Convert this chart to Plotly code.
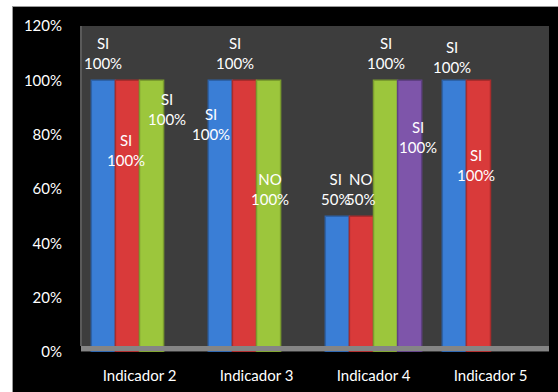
import plotly.graph_objects as go

categories = ["Indicador 2", "Indicador 3", "Indicador 4", "Indicador 5"]
series_names = ["Serie 1", "Serie 2", "Serie 3", "Serie 4"]
blue_vals = [1.0, 1.0, 0.5, 1.0]
red_vals = [1.0, 1.0, 0.5, 1.0]
green_vals = [1.0, 1.0, 1.0, None]
purple_vals = [None, None, 1.0, None]
blue_words = ["SI", "SI", "SI", "SI"]
red_words = ["SI", "SI", "NO", "SI"]
green_words = ["SI", "NO", "SI", None]
purple_words = [None, None, "SI", None]
y_ticks = [0, 0.2, 0.4, 0.6, 0.8, 1.0, 1.2]

values = [blue_vals, red_vals, green_vals, purple_vals]
words = [blue_words, red_words, green_words, purple_words]
colors = ["#3a7ed6", "#d93a3a", "#9cc63c", "#7e55aa"]
edge_colors = ["#2d62a8", "#a82c2c", "#7a9c2e", "#5f4083"]

# label placement (style): (label centre height in axis units, extra x shift in px)
label_place = [
    [(1.10, 2), (0.84, -7), (0.60, 0), (1.085, 0)],
    [(0.745, 1), (1.10, -7), (0.60, 1), (0.69, 0)],
    [(0.895, 17), (0.60, 3), (1.10, 2), None],
    [None, None, (0.79, 10), None],
]

BARGAP = 0.176
PLOT_L, PLOT_R, PLOT_T, PLOT_B = 81, 549, 26, 352
W, H = 558, 392

fig = go.Figure()
for name, vals, col, ec in zip(series_names, values, colors, edge_colors):
    fig.add_trace(go.Bar(
        x=categories, y=vals, name=name,
        marker=dict(color=col, line=dict(width=1.5, color=ec)),
        hoverinfo="skip",
    ))

bw = (1 - BARGAP) / 4
anns = []
for k in range(4):
    for i, cat in enumerate(categories):
        v = values[k][i]
        wd = words[k][i]
        pl = label_place[k][i]
        if v is None or wd is None or pl is None:
            continue
        anns.append(dict(
            x=i + (k - 1.5) * bw, y=pl[0], xref="x", yref="y",
            text=f"{wd}<br>{int(round(v * 100))}%",
            showarrow=False, xshift=pl[1] - 2,
            font=dict(color="white", size=15, family="Lato"),
            align="center",
        ))

pw = PLOT_R - PLOT_L
ph = PLOT_B - PLOT_T


def px2x(p):
    return (p - PLOT_L) / pw


def px2y(p):
    return (PLOT_B - p) / ph


shapes = [
    # white page outside the black chart area
    dict(type="rect", xref="paper", yref="paper", layer="above",
         x0=px2x(0), x1=px2x(W), y0=px2y(6), y1=px2y(0),
         fillcolor="#ffffff", line=dict(width=0)),
    dict(type="rect", xref="paper", yref="paper", layer="above",
         x0=px2x(0), x1=px2x(12), y0=px2y(H), y1=px2y(0),
         fillcolor="#ffffff", line=dict(width=0)),
    dict(type="line", xref="paper", yref="paper", layer="above",
         x0=px2x(12), x1=px2x(W), y0=px2y(6.5), y1=px2y(6.5),
         line=dict(color="#9a9a9a", width=1)),
    dict(type="line", xref="paper", yref="paper", layer="above",
         x0=px2x(12.5), x1=px2x(12.5), y0=px2y(6.5), y1=px2y(H),
         line=dict(color="#9a9a9a", width=1)),
    # floor
    dict(type="rect", xref="paper", yref="paper", layer="above",
         x0=0, x1=1, y0=px2y(351), y1=px2y(346),
         fillcolor="#858585", line=dict(width=0)),
    # left wall edge
    dict(type="line", xref="paper", yref="paper", layer="above",
         x0=0, x1=0, y0=px2y(346), y1=1,
         line=dict(color="#5a5a5a", width=2)),
]

fig.update_layout(
    width=W, height=H,
    margin=dict(l=PLOT_L, r=W - PLOT_R, t=PLOT_T, b=H - PLOT_B),
    paper_bgcolor="black",
    plot_bgcolor="#3d3d3d",
    barmode="group", bargap=BARGAP, bargroupgap=0,
    showlegend=False,
    font=dict(family="Lato", color="white", size=15),
    xaxis=dict(showgrid=False, showline=False, zeroline=False, ticks="",
               ticklabelstandoff=13, tickfont=dict(size=15, color="white")),
    yaxis=dict(range=[0, 1.2], tickvals=y_ticks, tickformat=".0%",
               showgrid=False, zeroline=False, showline=False, ticks="",
               ticklabelstandoff=18, tickfont=dict(size=15, color="white")),
    annotations=anns,
    shapes=shapes,
)

fig.write_html("out.html")
